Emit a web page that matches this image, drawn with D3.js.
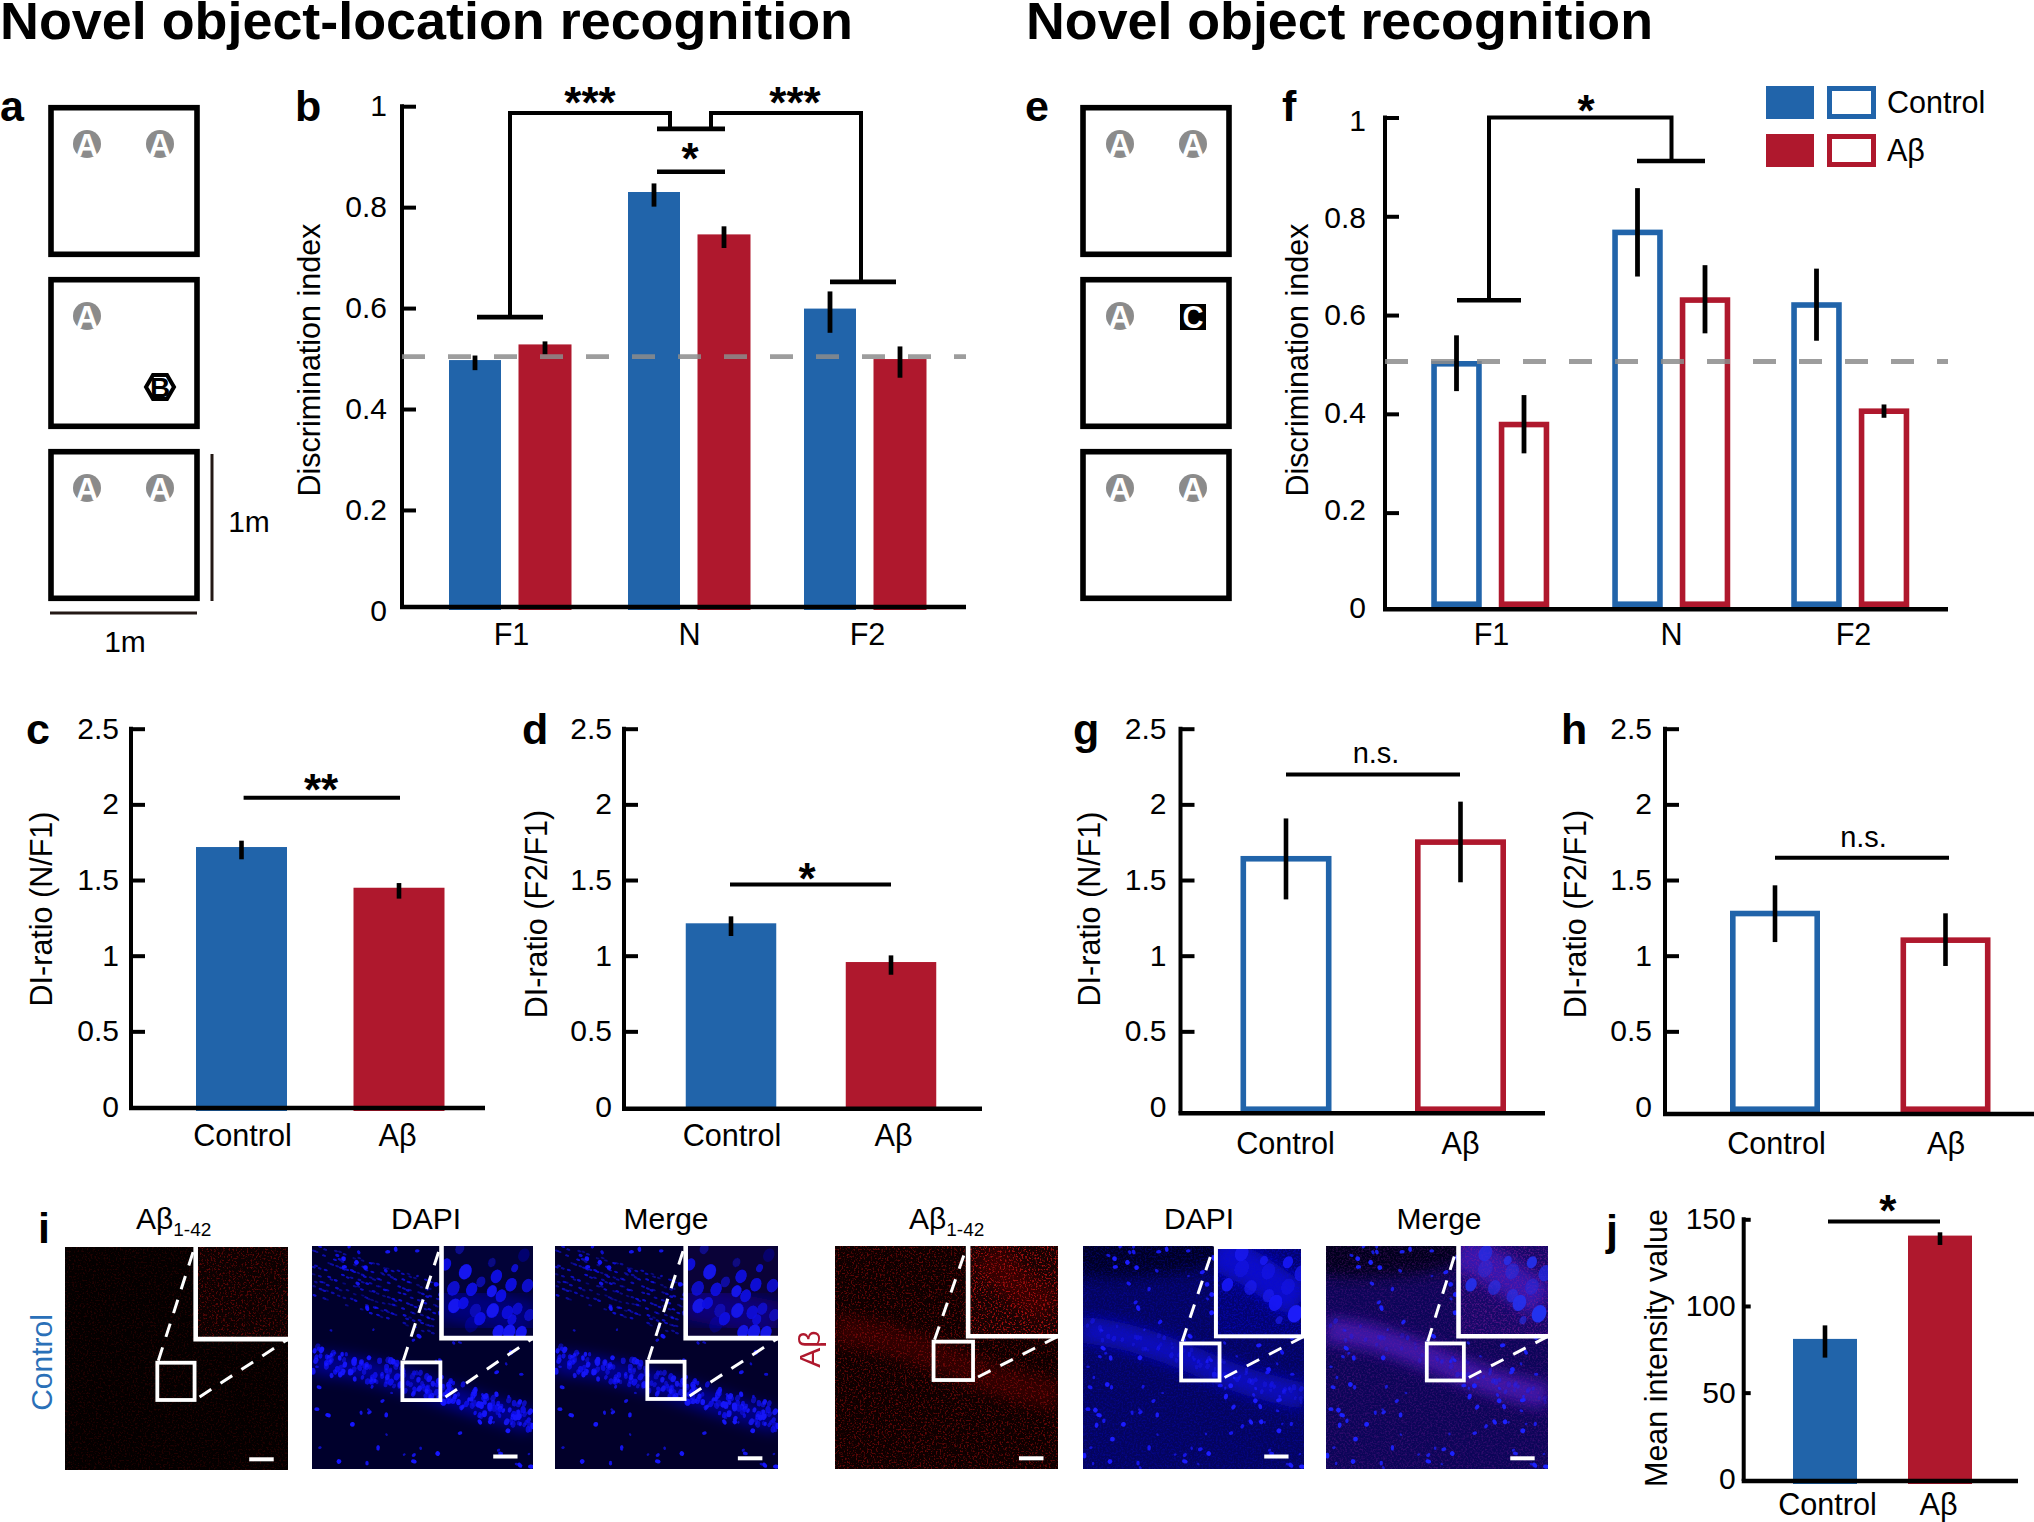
<!DOCTYPE html>
<html><head><meta charset="utf-8">
<style>html,body{margin:0;padding:0;background:#fff}svg{display:block}text{font-family:"Liberation Sans",Arial,sans-serif;fill:#000}</style>
<script src="https://d3js.org/d3.v7.min.js"></script></head><body>
<svg id="fig" width="2034" height="1522" viewBox="0 0 2034 1522"></svg>
<script>
// ---------- data ----------
const groupCategories = ['F1','N','F2'];
const twoCategories = ['Control','Aβ'];
const seriesNames = ['Control','Aβ'];
const diTicks = [0,0.2,0.4,0.6,0.8,1];
const ratioTicks = [0,0.5,1,1.5,2,2.5];
const intensityTicks = [0,50,100,150];

const bControl = [0.497,0.830,0.599];
const bAbeta   = [0.528,0.746,0.499];
const bControlLow = [0.477,0.801,0.551];
const bControlHigh= [0.506,0.847,0.633];
const bAbetaLow = [0.508,0.719,0.462];
const bAbetaHigh= [0.534,0.762,0.524];

const fControl = [0.507,0.773,0.626];
const fAbeta   = [0.384,0.636,0.411];
const fControlLow = [0.446,0.678,0.548];
const fControlHigh= [0.559,0.857,0.694];
const fAbetaLow = [0.320,0.563,0.392];
const fAbetaHigh= [0.438,0.701,0.419];

const cValues=[1.718,1.449], cLow=[1.637,1.377], cHigh=[1.760,1.480];
const dValues=[1.214,0.958], dLow=[1.130,0.874], dHigh=[1.260,1.002];
const gValues=[1.659,1.769], gLow=[1.372,1.485], gHigh=[1.907,2.018];
const hValues=[1.297,1.121], hLow=[1.090,0.932], hHigh=[1.465,1.280];
const jValues=[81,140.6], jLow=[70.2,135.2], jHigh=[88.8,142.5];

// ---------- style ----------
const BLUE='#2164aa', RED='#af182d', FS=30;
const svg=d3.select('#fig');
const font='"Liberation Sans",Arial,sans-serif';

function txt(x,y,s,o={}){
  const t=svg.append('text').attr('x',x).attr('y',y).text(s)
    .attr('font-size',o.fs||FS).attr('text-anchor',o.anchor||'middle')
    .attr('font-weight',o.bold?'bold':'normal');
  if(o.fill)t.style('fill',o.fill);
  if(o.rot!==undefined)t.attr('transform',`rotate(${o.rot} ${x} ${y})`);
  if(o.len)t.attr('textLength',o.len).attr('lengthAdjust','spacingAndGlyphs');
  return t;
}
function star(x,cy,s,fs=44){ // asterisks centred on cy
  return txt(x,cy+fs*0.5,s,{fs,bold:true});
}

// ---------- titles / letters ----------
txt(0,38.5,'Novel object-location recognition',{fs:51,bold:true,anchor:'start',len:853});
txt(1026,38.5,'Novel object recognition',{fs:51,bold:true,anchor:'start',len:627});
[['a',0,121],['b',295,121],['e',1025,121],['f',1282,121],['c',26,744],['d',522,744],
 ['g',1073,744],['h',1561,744],['i',38,1243],['j',1606,1245]]
 .forEach(d=>txt(d[1],d[2],d[0],{fs:43,bold:true,anchor:'start'}));

// ---------- generic axes ----------
function axes(p){
  const y=d3.scaleLinear().domain([0,p.vmax]).range([p.y0,p.yTop]);
  const gy=svg.append('g').attr('transform',`translate(${p.axisX},0)`)
    .call(d3.axisLeft(y).tickValues(p.ticks).tickSizeOuter(0).tickSizeInner(-(p.tickLen||14)).tickPadding(p.tickPad||12).tickFormat(d=>String(d)));
  gy.select('.domain').remove();
  gy.selectAll('.tick line').attr('stroke','#000').attr('stroke-width',4).filter(d=>d===0).remove();
  gy.selectAll('.tick text').attr('font-size',FS).attr('font-family',font);
  if(p.labelRange){
    const L=d3.scaleLinear().domain([0,p.vmax]).range(p.labelRange);
    gy.selectAll('.tick text').attr('y',d=>L(d)-y(d));
  }
  const x=d3.scaleOrdinal(p.cats,p.centres);
  const xl=d3.scaleOrdinal(p.cats,p.labelCentres||p.centres);
  const gx=svg.append('g').attr('transform',`translate(0,${p.axisY})`)
    .call(d3.axisBottom(xl).tickSize(0).tickPadding(p.labelBase-p.axisY-0.71*FS));
  gx.select('.domain').remove();
  gx.selectAll('.tick text').attr('font-size',30.6).attr('font-family',font);
  return {x,y};
}
function finishAxes(p){
  svg.append('line').attr('x1',p.axisX).attr('x2',p.axisX).attr('y1',p.yTop-2).attr('y2',p.axisY).attr('stroke','#000').attr('stroke-width',p.axisW||4);
  svg.append('line').attr('x1',p.axisX-2).attr('x2',p.xEnd).attr('y1',p.axisY).attr('y2',p.axisY).attr('stroke','#000').attr('stroke-width',4.6);
}
function solidBars(sel,data,xf,y,w,bottom,colorf){
  sel.selectAll(null).data(data).join('rect')
    .attr('x',(d,i)=>xf(i)-w/2).attr('width',w)
    .attr('y',d=>y(d)).attr('height',d=>bottom-y(d))
    .attr('fill',(d,i)=>colorf(i));
}
function openBars(sel,data,xf,y,w,bottom,colorf,sw=5.6){
  sel.selectAll(null).data(data).join('rect')
    .attr('x',(d,i)=>xf(i)-w/2+sw/2).attr('width',w-sw)
    .attr('y',d=>y(d)+sw/2).attr('height',d=>bottom-y(d)-sw)
    .attr('fill','#fff').attr('stroke',(d,i)=>colorf(i)).attr('stroke-width',sw);
}
function errs(sel,low,high,xf,y,sw=4.8){
  sel.selectAll(null).data(low).join('line')
    .attr('x1',(d,i)=>xf(i)).attr('x2',(d,i)=>xf(i))
    .attr('y1',d=>y(d)).attr('y2',(d,i)=>y(high[i]))
    .attr('stroke','#000').attr('stroke-width',sw);
}
function poly(pts,sw=4){
  svg.append('path').attr('d',d3.line()(pts)).attr('fill','none').attr('stroke','#000').attr('stroke-width',sw);
}
function dash(x0,x1,yy){
  svg.append('line').attr('x1',x0).attr('x2',x1).attr('y1',yy).attr('y2',yy)
   .attr('stroke','#8c8c8c').attr('stroke-opacity',.85).attr('stroke-width',4.8).attr('stroke-dasharray','23 23');
}

// ---------- panel b ----------
{
 const p={vmax:1,y0:610.9,yTop:106.2,axisX:402,axisY:607,xEnd:966,ticks:diTicks,cats:groupCategories,centres:[510,689,865],labelCentres:[511,689,867],labelBase:645,tickPad:15};
 const {x,y}=axes(p);
 const g=svg.append('g');
 const xc=i=>x(groupCategories[i])-35, xa=i=>x(groupCategories[i])+35;
 solidBars(g,bControl,xc,y,52,610,()=>BLUE);
 solidBars(g,bAbeta,xa,y,53,610,()=>RED);
 errs(g,bControlLow,bControlHigh,xc,y); errs(g,bAbetaLow,bAbetaHigh,xa,y);
 finishAxes(p);
 dash(402,966,y(0.504));
 const N=x('N'),F1=x('F1'),F2=x('F2');
 poly([[F1-33,y(.582)],[F1+33,y(.582)]],4.6);
 poly([[F1,y(.582)],[F1,y(.9866)],[N-19,y(.9866)],[N-19,y(.955)]]);
 poly([[N-32,y(.955)],[N+36,y(.955)]],4.6);
 poly([[N+22,y(.955)],[N+22,y(.9866)],[F2-4,y(.9866)],[F2-4,y(.652)]]);
 poly([[F2-35,y(.652)],[F2+31,y(.652)]],4.6);
 poly([[N-32,y(.87)],[N+36,y(.87)]],4.6);
 star(590,y(1.02),'***'); star(795,y(1.02),'***'); star(690,y(.91),'*');
 txt(309,360,'Discrimination index',{fs:30.5,rot:-90,anchor:'middle'}).attr('dy','.36em');
}
// ---------- panel f ----------
{
 const p={vmax:1,y0:611.4,yTop:117.5,axisX:1385,axisY:609.3,xEnd:1948,ticks:diTicks,cats:groupCategories,centres:[1490,1671,1850],labelCentres:[1491,1671,1853],labelBase:645,tickPad:19,labelRange:[607.5,120.5]};
 const {x,y}=axes(p);
 const g=svg.append('g');
 const xc=i=>x(groupCategories[i])-33.5, xa=i=>x(groupCategories[i])+34;
 openBars(g,fControl,xc,y,50.5,607,()=>BLUE);
 openBars(g,fAbeta,xa,y,50.5,607,()=>RED);
 errs(g,fControlLow,fControlHigh,xc,y); errs(g,fAbetaLow,fAbetaHigh,xa,y);
 finishAxes(p);
 dash(1385,1948,y(.506));
 const N=x('N'),F1=x('F1');
 poly([[F1-33,y(.63)],[F1+31,y(.63)]],4.6);
 poly([[F1-1,y(.63)],[F1-1,y(1)],[N+.5,y(1)],[N+.5,y(.912)]]);
 poly([[N-34,y(.912)],[N+34,y(.912)]],4.6);
 star(1586,y(1.027),'*');
 txt(1297,360,'Discrimination index',{fs:30.5,rot:-90}).attr('dy','.36em');
 // legend
 const ly=d3.scaleOrdinal(seriesNames,[86,134]), lc=d3.scaleOrdinal(seriesNames,[BLUE,RED]);
 seriesNames.forEach(s=>{
  svg.append('rect').attr('x',1766).attr('y',ly(s)).attr('width',48).attr('height',33).attr('fill',lc(s));
  svg.append('rect').attr('x',1829.5).attr('y',ly(s)+2.5).attr('width',44).attr('height',28).attr('fill','#fff').attr('stroke',lc(s)).attr('stroke-width',5);
  txt(1887,ly(s)+27,s,{anchor:'start',fs:30.5});
 });
}
// ---------- small bar panels ----------
function small(o){
 const p=Object.assign({cats:twoCategories},o);
 const {x,y}=axes(p);
 const g=svg.append('g');
 const cf=i=>i?RED:BLUE;
 const bx=d3.scaleOrdinal([0,1],o.barCentres);
 (o.open?openBars:solidBars)(g,o.values,bx,y,o.barW,o.barBottom,cf);
 errs(g,o.low,o.high,bx,y,o.errW||4.6);
 finishAxes(p);
 poly([[o.brX[0],y(o.brV)],[o.brX[1],y(o.brV)]],4);
 txt(o.ylX,o.ylY,o.ylabel,{fs:o.ylFs||30.5,rot:-90}).attr('dy','.36em');
 if(o.ns) txt(o.sigX,o.sigY,o.sig,{fs:29});
 else star(o.sigX,o.sigY,o.sig);
}
const ry0=1107, ryT=728.7;
small({vmax:2.5,y0:ry0,yTop:ryT,axisX:131,axisY:1108,xEnd:485,ticks:ratioTicks,centres:[242,397],labelBase:1146,tickPad:12,
  values:cValues,low:cLow,high:cHigh,barCentres:[241.5,399],barW:91,barBottom:1111,
  brX:[243.6,400],brV:2.044,sigX:321,sigY:783,sig:'**',ylabel:'DI-ratio (N/F1)',ylX:41,ylY:909});
small({vmax:2.5,y0:ry0,yTop:ryT,axisX:624,axisY:1108.7,xEnd:982,ticks:ratioTicks,centres:[731.5,893],labelBase:1146,tickPad:12,
  values:dValues,low:dLow,high:dHigh,barCentres:[731,891],barW:90.5,barBottom:1111,
  brX:[730,891],brV:1.471,sigX:807,sigY:872,sig:'*',ylabel:'DI-ratio (F2/F1)',ylX:536,ylY:914});
small({vmax:2.5,y0:ry0,yTop:ryT,axisX:1180.5,axisY:1113.3,xEnd:1545,ticks:ratioTicks,centres:[1285,1460],labelBase:1154,tickPad:14,
  values:gValues,low:gLow,high:gHigh,barCentres:[1286,1460.5],barW:91,barBottom:1112,open:true,
  brX:[1286,1460],brV:2.198,sigX:1376,sigY:763,sig:'n.s.',ns:true,ylabel:'DI-ratio (N/F1)',ylX:1089,ylY:909});
small({vmax:2.5,y0:ry0,yTop:ryT,axisX:1665,axisY:1114,xEnd:2034,ticks:ratioTicks,centres:[1776,1945.5],labelBase:1154,tickPad:13,
  values:hValues,low:hLow,high:hHigh,barCentres:[1775,1945.5],barW:90,barBottom:1112,open:true,
  brX:[1775,1949],brV:1.648,sigX:1863.5,sigY:847,sig:'n.s.',ns:true,ylabel:'DI-ratio (F2/F1)',ylX:1575.5,ylY:914});
small({vmax:150,y0:1479.3,yTop:1219.3,axisX:1743.7,axisY:1481,xEnd:2018,ticks:intensityTicks,centres:[1827,1938],labelBase:1515,tickLen:7,tickPad:8,
  values:jValues,low:jLow,high:jHigh,barCentres:[1825,1940],barW:64,barBottom:1484,
  brX:[1828,1940],brV:148.8,sigX:1887.7,sigY:1204,sig:'*',ylabel:'Mean intensity value',ylFs:30.5,ylX:1656,ylY:1348});

// ---------- arenas a / e ----------
function arena(x0,w,yTop,h){
  svg.append('rect').attr('x',x0+3).attr('y',yTop+2.7).attr('width',w-6).attr('height',h-5.4)
   .attr('fill','#fff').attr('stroke','#000').attr('stroke-width',5.6);
}
function objA(cx,cy){
  svg.append('circle').attr('cx',cx).attr('cy',cy).attr('r',14).attr('fill','#8b8b8b');
  txt(cx,cy+11.5,'A',{fs:31,bold:true,fill:'#fff'});
}
[[48,152,[87,160]],[1080,152,[1120,1193]]].forEach(([x0,w,ox],k)=>{
  arena(x0,w,105,152); arena(x0,w,277,152); arena(x0,w,449,152);
  objA(ox[0],144); objA(ox[1],144);
  objA(ox[0],316);
  objA(ox[0],488); objA(ox[1],488);
  if(k===0){
    svg.append('path').attr('d',d3.line()([[146,387],[153,375],[167,375],[174,387],[167,399],[153,399]])+'Z')
      .attr('fill','#fff').attr('stroke','#000').attr('stroke-width',4);
    txt(160,397,'B',{fs:28,bold:true});
  } else {
    svg.append('rect').attr('x',1180).attr('y',304).attr('width',26).attr('height',26).attr('fill','#000');
    txt(1193,328,'C',{fs:32,bold:true,fill:'#fff',len:21});
  }
});
svg.append('line').attr('x1',212).attr('x2',212).attr('y1',454).attr('y2',601).attr('stroke','#231815').attr('stroke-width',3);
svg.append('line').attr('x1',50).attr('x2',197).attr('y1',613).attr('y2',613).attr('stroke','#231815').attr('stroke-width',3);
txt(249,532,'1m',{}); txt(125,652,'1m',{});

// ---------- micrographs (painted illustration texture, not chart data) ----------
const defs=svg.append('defs');
function blurF(id,s){defs.append('filter').attr('id',id).attr('x','-40%').attr('y','-40%').attr('width','180%').attr('height','180%').append('feGaussianBlur').attr('stdDeviation',s);}
blurF('soft',7); blurF('soft3',14); blurF('soft2',.45);
function speck(id,rgb,seed,k,c,freq=.55){
  const f=defs.append('filter').attr('id',id).attr('x',0).attr('y',0).attr('width','100%').attr('height','100%').attr('color-interpolation-filters','sRGB');
  f.append('feTurbulence').attr('type','fractalNoise').attr('baseFrequency',freq).attr('numOctaves',2).attr('seed',seed);
  f.append('feColorMatrix').attr('values',`0 0 0 0 ${rgb[0]}  0 0 0 0 ${rgb[1]}  0 0 0 0 ${rgb[2]}  ${k} 0 0 0 ${-c}`);
}
speck('spR',[.62,.05,.05],3,6,3.2);
speck('spB',[.03,.03,.85],5,3.2,1.35);
speck('spP',[.5,.1,.6],7,3.4,1.5);
const fr=v=>v-Math.floor(v);
const H=(i,s)=>fr(Math.sin(i*12.9898+s*78.233)*43758.5453);
let mid=0;
function micro(m){
  const [x0,y0,w,h]=m.box, id='mc'+(mid++);
  defs.append('clipPath').attr('id',id).append('rect').attr('x',x0).attr('y',y0).attr('width',w).attr('height',h);
  const U=d3.scaleLinear([0,1],[x0,x0+w]),V=d3.scaleLinear([0,1],[y0,y0+h]);
  const g=svg.append('g').attr('clip-path',`url(#${id})`);
  const full=(sel,fill)=>sel.append('rect').attr('x',x0).attr('y',y0).attr('width',w).attr('height',h).attr('fill',fill);
  full(g,m.bg);
  if(m.dark) g.append('ellipse').attr('cx',U(.15)).attr('cy',V(0)).attr('rx',w*.55).attr('ry',h*.14).attr('fill',m.dark).attr('filter','url(#soft)');
  const bandV=d3.scaleLinear(m.band.map(d=>d[0]),m.band.map(d=>d[1]));
  const line=d3.line().x(d=>U(d[0])).y(d=>V(d[1])).curve(d3.curveCatmullRom);
  if(m.glow) g.append('path').attr('d',line(m.band)).attr('fill','none').attr('stroke',m.glow).attr('stroke-width',m.glowW||26).attr('opacity',m.glowOp||1).attr('filter',`url(#${m.glowF||'soft'})`);
  if(m.spk) full(g,'#fff').attr('filter',`url(#${m.spk})`).attr('opacity',m.spkOp||1);
  const dots=g.append('g').attr('fill',m.cell||'none').attr('filter','url(#soft2)');
  const el=(u,v,rx,ry,rot)=>dots.append('ellipse').attr('cx',U(u)).attr('cy',V(v)).attr('rx',rx).attr('ry',ry)
       .attr('transform',`rotate(${rot} ${U(u)} ${V(v)})`);
  if(m.cell){
    for(let i=1;i<=(m.layerN||0);i++){
      const t=H(i,1),o=H(i,2)-.62, rr=(m.layerR||2.4)*(.75+.5*H(i,3));
      el(t,bandV(t)+o*(m.thick||.1),rr,rr*1.35,H(i,5)*40-10).attr('opacity',(m.layerOp||1)*(.45+.55*H(i,4)));
    }
    for(let i=1;i<=(m.scatN||0);i++){
      const u=H(i,6),v=H(i,7), big=H(i,8);
      el(u,v,big>.85?2.4:1.1+big*1.1,big>.85?2.4:1.4+big*1.8,H(i,9)*180).attr('opacity',(m.scatOp||.9)*(.5+.5*big+.2));
    }
    for(let r=0;r<(m.rows||0);r++){
      for(let c=0;c<40;c++){
        if(H(r*50+c,10)<.35) continue;
        const u=c*.017+H(r*50+c,11)*.012;
        el(u,-.015+r*.032+u*.32+H(r*50+c,12)*.012,2.1,1.1,18).attr('opacity',.3+.5*H(r*50+c,13));
      }
    }
  }
  // inset
  const iu=m.inset.u,iv=m.inset.v;
  const IU=d3.scaleLinear([0,1],[U(iu[0]),U(iu[1])]),IV=d3.scaleLinear([0,1],[V(iv[0]),V(iv[1])]);
  const ig=g.append('g');
  ig.append('rect').attr('x',IU(0)).attr('y',IV(0)).attr('width',IU(1)-IU(0)).attr('height',IV(1)-IV(0)).attr('fill',m.inset.bg);
  defs.append('clipPath').attr('id',id+'i').append('rect').attr('x',IU(0)).attr('y',IV(0)).attr('width',IU(1)-IU(0)).attr('height',IV(1)-IV(0));
  const ic=ig.append('g').attr('clip-path',`url(#${id}i)`);
  if(m.inset.glow){
    ic.append('path').attr('d',d3.line().x(d=>IU(d[0])).y(d=>IV(d[1]))(m.inset.glowPath)).attr('fill','none').attr('stroke',m.inset.glow).attr('stroke-width',m.inset.glowW||26).attr('filter',`url(#${m.inset.glowF||'soft'})`);
  }
  if(m.inset.spk) ic.append('rect').attr('x',IU(0)).attr('y',IV(0)).attr('width',IU(1)-IU(0)).attr('height',IV(1)-IV(0)).attr('fill','#fff').attr('filter',`url(#${m.inset.spk})`).attr('opacity',m.inset.spkOp||1);
  ic.append('g').attr('filter','url(#soft2)').selectAll(null).data(m.inset.cells||[]).join('ellipse')
    .attr('cx',d=>IU(d[0])).attr('cy',d=>IV(d[1])).attr('rx',d=>(m.inset.r||5.4)*(d[3]||1)).attr('ry',d=>(m.inset.r||5.4)*1.3*(d[3]||1))
    .attr('transform',d=>`rotate(25 ${IU(d[0])} ${IV(d[1])})`)
    .attr('fill',m.inset.cell).attr('opacity',d=>d[2]||1);
  // frame
  const wht=(sel)=>sel.attr('stroke','#fff').attr('fill','none');
  if(m.inset.full){
    wht(g.append('rect').attr('x',IU(0)+1).attr('y',IV(0)+1).attr('width',IU(1)-IU(0)-2).attr('height',IV(1)-IV(0)-1)).attr('stroke-width',4);
  } else {
    wht(g.append('path').attr('d',d3.line()([[IU(0),IV(0)],[IU(0),IV(1)],[IU(1),IV(1)]]))).attr('stroke-width',4.6);
  }
  const b=m.sel;
  wht(g.append('rect').attr('x',U(b[0])+2).attr('y',V(b[1])+2).attr('width',U(b[2])-U(b[0])-4).attr('height',V(b[3])-V(b[1])-4)).attr('stroke-width',3.8);
  wht(g.append('line').attr('x1',U(b[0])+3).attr('y1',V(b[1])).attr('x2',IU(0)-1).attr('y2',IV(0))).attr('stroke-width',3).attr('stroke-dasharray','14 11');
  wht(g.append('line').attr('x1',U(b[2])+3).attr('y1',V(b[3])-5).attr('x2',IU(1)).attr('y2',IV(1))).attr('stroke-width',3).attr('stroke-dasharray','14 11');
  g.append('rect').attr('x',U(m.bar[0])).attr('y',V(m.bar[1])).attr('width',w*.11).attr('height',h*.018).attr('fill','#fff');
}
// inset nuclei positions (x, y in inset units, opacity, size)
const ctlCells=[[.26,.28,1,1.15],[.05,.2,.9,.9],[.13,.46,.8,1.1],[.33,.47,.9,1],[.43,.39,.6,.8],[.6,.33,.9,1],[.8,.24,.8,.6],[.76,.42,.9,1],[.94,.43,.8,1],[.55,.49,1,.9],[.65,.54,.9,.95],[.14,.65,1,1.1],[.24,.62,.9,.9],[.37,.7,.5,1],[.56,.7,1,1.1],[.42,.79,.9,1],[.72,.72,.8,1],[.83,.68,.7,.9],[.77,.8,.8,.8],[.62,.93,1,1],[.74,.93,1,1.1],[.87,.94,1,1],[.96,.75,.6,.9],[.2,.03,.45,.8],[.55,.18,.4,.7],[.33,.85,.3,1.2],[.9,.1,.3,1]];
const abCells=[[.3,.08,.7,1.2],[.55,.16,.8,.7],[.82,.18,.9,.9],[.97,.3,.7,1.2],[.14,.43,.9,1],[.4,.46,.6,1.1],[.6,.55,.6,1],[.68,.63,.9,1.2],[.9,.75,1,1.3],[.72,.82,.6,.6],[.6,.28,.45,1.2],[.3,.25,.35,1.3],[.82,.45,.4,1.2]];
const ctlBand=[[0,.525],[.2,.55],[.4,.6],[.7,.7],[1,.79]];
const abBand=[[0,.375],[.2,.41],[.416,.48],[.717,.6],[1,.675]];
const cIn={u:[.586,1],v:[0,.413]}, aIn={u:[.597,1],v:[0,.405]};
// images
micro({box:[65,1247,223,223],bg:'#040000',band:ctlBand,spk:'spR',spkOp:.18,
  inset:{...cIn,bg:'#0c0101',spk:'spR',spkOp:.5},sel:[.405,.51,.59,.695],bar:[.826,.943]});
micro({box:[312,1246,221,223],bg:'#00002c',band:ctlBand,cell:'#1414ff',layerN:200,thick:.125,layerR:2.2,scatN:95,rows:8,glow:'#060690',glowW:22,
  inset:{...cIn,bg:'#020238',glow:'#06067c',glowPath:[[0,.6],[1,.8]],glowW:36,cells:ctlCells,cell:'#1212ee'},sel:[.40,.513,.59,.70],bar:[.82,.935]});
micro({box:[555,1246,223,223],bg:'#02002a',band:ctlBand,cell:'#1414f8',layerN:200,thick:.125,layerR:2.2,scatN:95,rows:8,glow:'#06068c',glowW:22,
  inset:{...cIn,bg:'#0a0238',glow:'#08067a',glowPath:[[0,.6],[1,.8]],glowW:36,cells:ctlCells,cell:'#1212e6'},sel:[.405,.51,.59,.695],bar:[.82,.943]});
micro({box:[835,1246,223,223],bg:'#0e0000',band:abBand,glow:'#300505',glowW:30,spk:'spR',spkOp:.55,
  inset:{...aIn,bg:'#180202',glow:'#380505',glowPath:[[.2,.1],[.5,.4],[.9,.7]],glowW:34,spk:'spR',spkOp:1},sel:[.433,.42,.628,.61],bar:[.825,.943]});
micro({box:[1083,1246,221,223],bg:'#04045e',band:abBand,dark:'#000020',cell:'#1a1aff',layerN:70,thick:.09,layerR:1.9,layerOp:.5,scatN:135,glow:'#1010b8',glowW:26,spk:'spB',spkOp:.3,
  inset:{...aIn,bg:'#030370',glow:'#0c0cc8',glowPath:[[.0,.05],[.45,.28],[.95,.62]],glowW:36,cells:abCells,cell:'#1a1af8',spk:'spB',spkOp:.5,full:true},sel:[.435,.428,.627,.612],bar:[.82,.935]});
micro({box:[1326,1246,222,223],bg:'#0c0558',band:abBand,dark:'#04001c',cell:'#1c22ff',layerN:50,thick:.09,layerR:1.9,layerOp:.45,scatN:135,glow:'#3c18a8',glowW:26,spk:'spP',spkOp:.3,
  inset:{...aIn,bg:'#160868',glow:'#3418b0',glowPath:[[.0,.05],[.45,.28],[.95,.62]],glowW:36,cells:abCells,cell:'#2430ee',spk:'spP',spkOp:.55},sel:[.445,.428,.63,.612],bar:[.83,.943]});
// headers
function abHead(x,y){
  const t=svg.append('text').attr('x',x).attr('y',y).attr('font-size',FS);
  t.append('tspan').text('Aβ');
  t.append('tspan').attr('font-size',19).attr('dy',7).text('1-42');
}
abHead(136,1229); abHead(909,1229);
txt(426,1229,'DAPI'); txt(666,1229,'Merge'); txt(1199,1229,'DAPI'); txt(1439,1229,'Merge');
txt(41,1362.5,'Control',{rot:-90,fill:'#2a70b8'}).attr('dy','.36em');
txt(809,1349,'Aβ',{rot:-90,fill:RED}).attr('dy','.36em');
</script></body></html>
